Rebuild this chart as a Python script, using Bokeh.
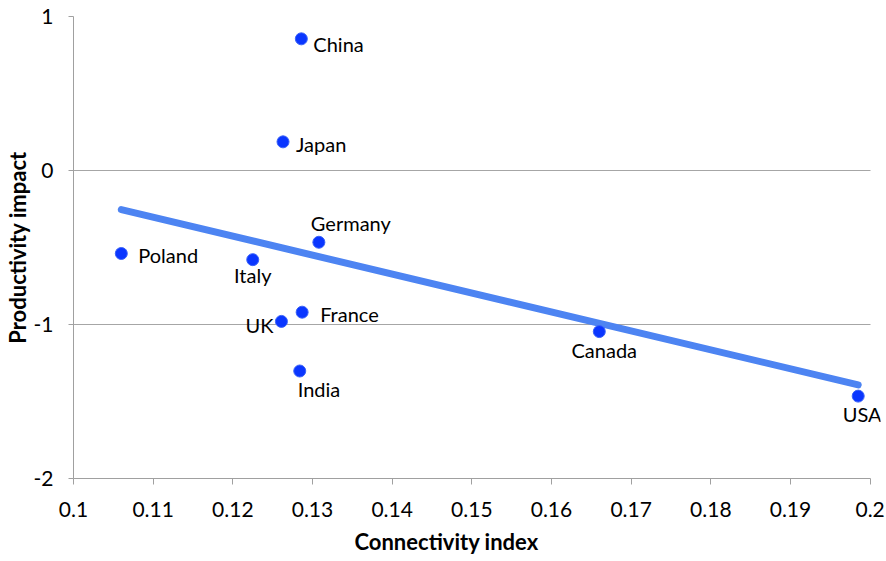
import numpy as np
from bokeh.plotting import figure
from bokeh.models import ColumnDataSource, FixedTicker, Range1d, LabelSet, Title
from bokeh.core.properties import value
from bokeh.embed import file_html
from bokeh.resources import INLINE

# ---- data ----
countries = ["China", "Japan", "Germany", "Poland", "Italy", "France", "UK", "India", "Canada", "USA"]
connectivity = [0.1286, 0.1263, 0.1308, 0.1060, 0.1225, 0.1287, 0.1261, 0.1284, 0.1660, 0.1985]
productivity = [0.855, 0.186, -0.466, -0.539, -0.579, -0.920, -0.980, -1.302, -1.046, -1.465]
x_ticks = [0.1, 0.11, 0.12, 0.13, 0.14, 0.15, 0.16, 0.17, 0.18, 0.19, 0.2]
y_ticks = [1, 0, -1, -2]
x_title = "Connectivity index"
y_title = "Productivity impact"

# ---- label placement (screen px, +down) ----
label_dx = [12, 13, -8, 17, 0, 18, -8, -2, 5, 4]
label_dy = [5, 2, -19, 1, 15, 2, 4, 18, 18, 18]
label_align = ["left", "left", "left", "left", "center", "left", "right", "left", "center", "center"]

FONT = "Lato"

p = figure(width=886, height=561, output_backend="svg", toolbar_location=None,
           x_range=Range1d(x_ticks[0], 0.2013), y_range=Range1d(y_ticks[-1], y_ticks[0]),
           min_border_left=73, min_border_right=6, min_border_top=16, min_border_bottom=83)
p.outline_line_color = None
p.background_fill_color = "white"

# grids
p.xgrid.grid_line_color = None
p.ygrid.grid_line_color = "#a6a6a6"
p.ygrid.grid_line_width = 1
if hasattr(p.ygrid[0], "cross_bounds"):
    p.ygrid.cross_bounds = (x_ticks[0], x_ticks[-1])

# axes
for ax in (p.xaxis[0], p.yaxis[0]):
    ax.axis_line_color = "#a0a0a0"
    ax.major_tick_line_color = "#a0a0a0"
    ax.minor_tick_line_color = None
    ax.major_tick_in = 0
    ax.major_label_text_font = FONT
    ax.major_label_text_font_size = "21px"
    ax.major_label_text_color = "black"
    ax.axis_label_text_font = FONT
    ax.axis_label_text_font_size = "22px"
    ax.axis_label_text_font_style = "bold"
    ax.axis_label_text_color = "black"

p.xaxis.bounds = (x_ticks[0], x_ticks[-1])
p.xaxis.ticker = FixedTicker(ticks=x_ticks)
p.yaxis.ticker = FixedTicker(ticks=y_ticks)
p.xaxis.major_label_overrides = {t: ("%g" % t) for t in x_ticks}
p.yaxis.major_label_overrides = {t: ("%g" % t) for t in y_ticks}
p.xaxis.major_tick_out = 6
p.yaxis.major_tick_out = 5
p.xaxis.major_label_standoff = 17
p.yaxis.major_label_standoff = 15
p.yaxis.axis_label = y_title
p.yaxis.axis_label_standoff = 0

p.add_layout(Title(text=x_title, align="left", offset=281,
                   text_font=FONT, text_font_size="22px", text_font_style="bold",
                   text_color="black", standoff=12), "below")

# linear trend line from the data
slope, intercept = np.polyfit(connectivity, productivity, 1)
tx = [min(connectivity), max(connectivity)]
ty = [slope * v + intercept for v in tx]
p.line(tx, ty, line_color="#4d84f2", line_width=7, line_cap="round")

src = ColumnDataSource(dict(x=connectivity, y=productivity, name=countries,
                            dx=label_dx, dy=[-d for d in label_dy], align=label_align))
p.scatter("x", "y", source=src, size=12, fill_color="#0a36ff", line_color="#3a62f8", line_width=1)

labels = LabelSet(x="x", y="y", text="name", source=src, x_offset="dx", y_offset="dy",
                  text_align="align", text_baseline="middle",
                  text_font=value(FONT), text_font_size="20px", text_color="black")
p.add_layout(labels)

open("out.html", "w").write(file_html(p, INLINE))
